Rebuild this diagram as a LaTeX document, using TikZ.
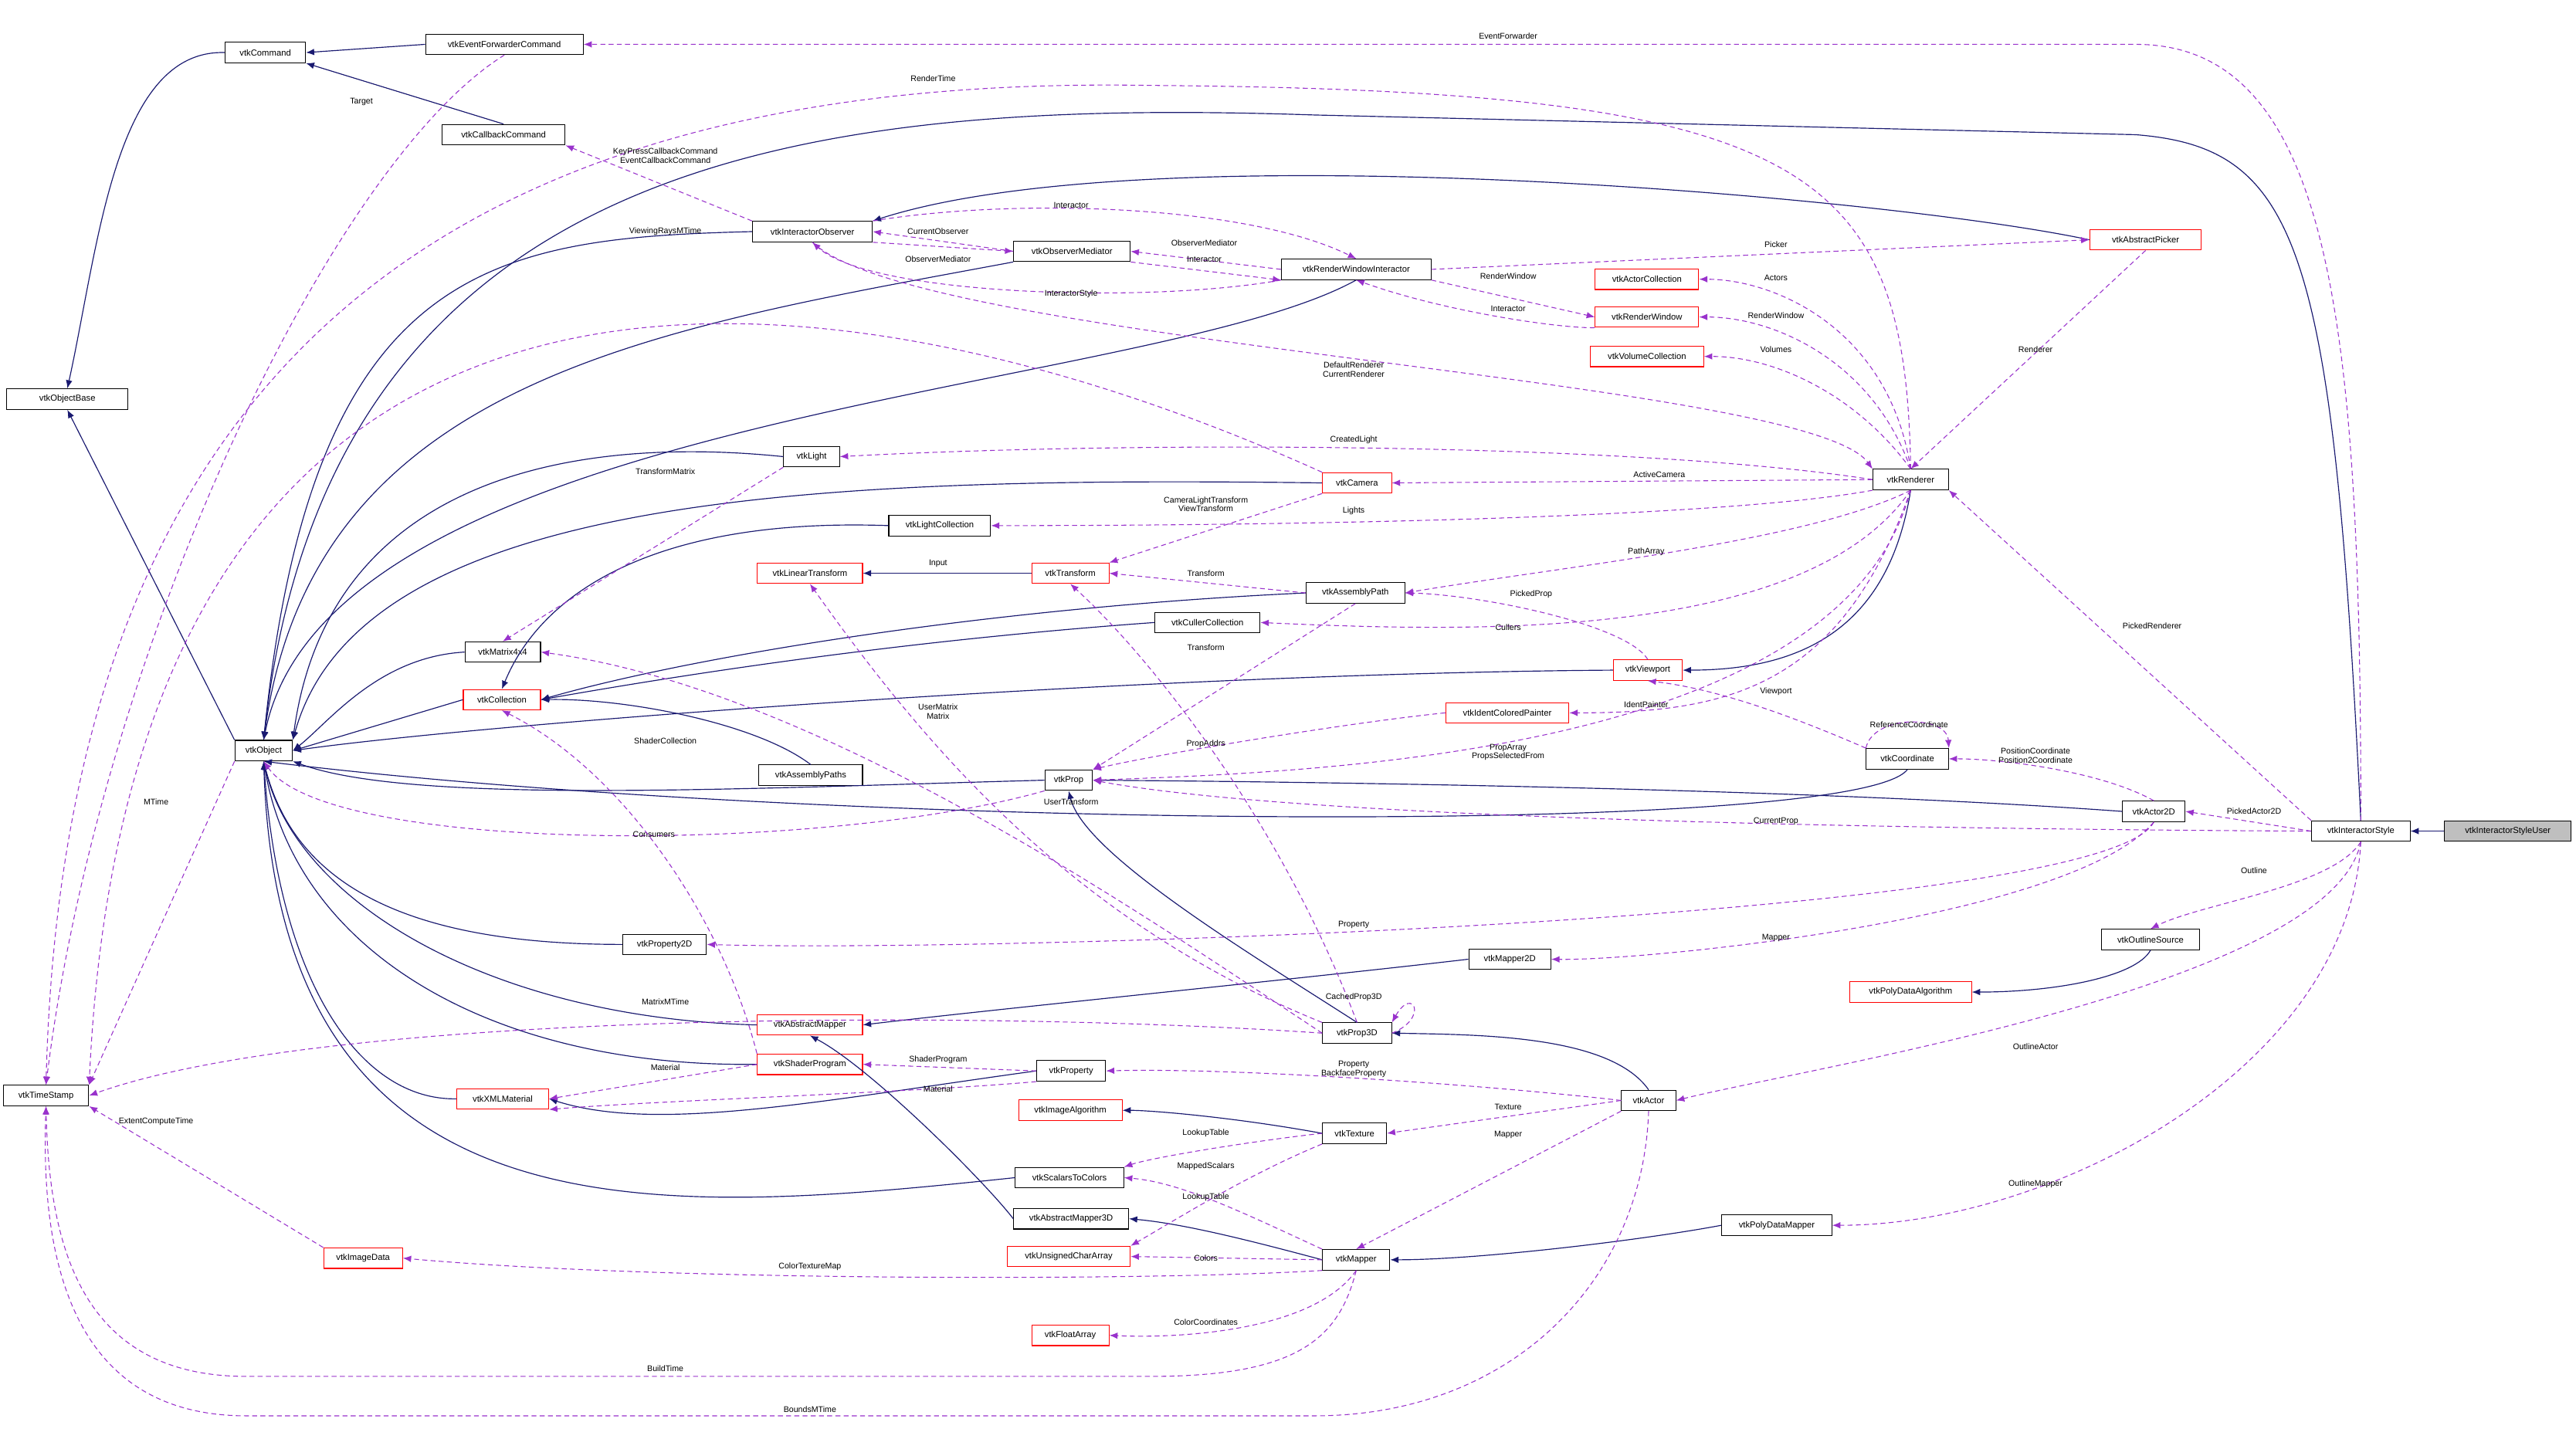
\documentclass[tikz,border=0pt]{standalone}
\usepackage{fontspec}
\setmainfont{Liberation Sans}
\usetikzlibrary{arrows.meta}
\definecolor{navy}{RGB}{25,25,112}
\definecolor{dpurple}{RGB}{153,50,204}
\definecolor{gfill}{RGB}{191,191,191}
\begin{document}
\begin{tikzpicture}[x=1pt,y=-1pt,
 cls/.style={draw=black,line width=0.5pt,minimum height=12.5pt,inner sep=0.5pt,font=\fontsize{5.3}{6}\selectfont,fill=white},
 rcls/.style={cls,draw=red},
 inh/.style={navy,line width=0.55pt,-{Latex[length=5pt,width=4pt]}},
 dep/.style={dpurple,line width=0.5pt,dashed,dash pattern=on 3pt off 2pt,-{Latex[length=5pt,width=4pt]}},
 lbl/.style={black,font=\fontsize{5}{5.6}\selectfont,inner sep=0.5pt,align=center}]
\useasboundingbox (0,0) rectangle (1568,876);
\fill[white] (0,0) rectangle (1568,876);
% nodes
\node[cls,minimum width=49pt] (Command) at (161.5,32) {vtkCommand};
\node[cls,minimum width=96pt] (EFC) at (307,27) {vtkEventForwarderCommand};
\node[cls,minimum width=75pt] (CBC) at (306.5,82) {vtkCallbackCommand};
\node[cls,minimum width=74pt] (OB) at (41,243) {vtkObjectBase};
\node[cls,minimum width=73pt] (IO) at (494.5,141) {vtkInteractorObserver};
\node[cls,minimum width=71pt] (OM) at (652.5,153) {vtkObserverMediator};
\node[cls,minimum width=91pt] (RWI) at (825.5,164) {vtkRenderWindowInteractor};
\node[rcls,minimum width=68pt] (AP) at (1306,146) {vtkAbstractPicker};
\node[rcls,minimum width=63pt] (AC) at (1002.5,170) {vtkActorCollection};
\node[rcls,minimum width=63pt] (RW) at (1002.5,193) {vtkRenderWindow};
\node[rcls,minimum width=69pt] (VC) at (1002.5,217) {vtkVolumeCollection};
\node[cls,minimum width=34pt] (Light) at (494,278) {vtkLight};
\node[rcls,minimum width=42pt] (Camera) at (826,294) {vtkCamera};
\node[cls,minimum width=46pt] (Ren) at (1163,292) {vtkRenderer};
\node[cls,minimum width=62pt] (LC) at (572,320) {vtkLightCollection};
\node[rcls,minimum width=64pt] (LT) at (493,349) {vtkLinearTransform};
\node[rcls,minimum width=47pt] (Tr) at (651.5,349) {vtkTransform};
\node[cls,minimum width=60pt] (APath) at (825,361) {vtkAssemblyPath};
\node[cls,minimum width=64pt] (CC) at (735,379) {vtkCullerCollection};
\node[cls,minimum width=46pt] (M44) at (306,397) {vtkMatrix4x4};
\node[rcls,minimum width=42pt] (VP) at (1003,408) {vtkViewport};
\node[rcls,minimum width=47pt] (Coll) at (305.5,426) {vtkCollection};
\node[rcls,minimum width=75pt] (ICP) at (917.5,434) {vtkIdentColoredPainter};
\node[cls,minimum width=35pt] (Obj) at (160.5,457) {vtkObject};
\node[cls,minimum width=63pt] (APaths) at (493.5,472) {vtkAssemblyPaths};
\node[cls,minimum width=29pt] (Prop) at (650.5,475) {vtkProp};
\node[cls,minimum width=50pt] (Coord) at (1161,462) {vtkCoordinate};
\node[cls,minimum width=38pt] (A2D) at (1311,494) {vtkActor2D};
\node[cls,minimum width=60pt] (IS) at (1437,506) {vtkInteractorStyle};
\node[cls,minimum width=77pt,fill=gfill] (ISU) at (1526.5,506) {vtkInteractorStyleUser};
\node[cls,minimum width=60pt] (OS) at (1309,572) {vtkOutlineSource};
\node[rcls,minimum width=74pt] (PDA) at (1163,604) {vtkPolyDataAlgorithm};
\node[cls,minimum width=51pt] (P2D) at (404.5,575) {vtkProperty2D};
\node[cls,minimum width=50pt] (M2D) at (919,584) {vtkMapper2D};
\node[rcls,minimum width=64pt] (AM) at (493,624) {vtkAbstractMapper};
\node[cls,minimum width=42pt] (P3D) at (826,629) {vtkProp3D};
\node[rcls,minimum width=64pt] (SP) at (493,648) {vtkShaderProgram};
\node[cls,minimum width=42pt] (Pty) at (652,652) {vtkProperty};
\node[cls,minimum width=52pt] (TS) at (28,667) {vtkTimeStamp};
\node[rcls,minimum width=56pt] (XML) at (306,669) {vtkXMLMaterial};
\node[cls,minimum width=33pt] (Actor) at (1003.5,670) {vtkActor};
\node[rcls,minimum width=63pt] (IA) at (651.5,676) {vtkImageAlgorithm};
\node[cls,minimum width=39pt] (Tex) at (824.5,690) {vtkTexture};
\node[cls,minimum width=66pt] (S2C) at (651,717) {vtkScalarsToColors};
\node[cls,minimum width=70pt] (AM3D) at (652,742) {vtkAbstractMapper3D};
\node[cls,minimum width=67pt] (PDM) at (1081.5,746) {vtkPolyDataMapper};
\node[rcls,minimum width=48pt] (ID) at (221,766) {vtkImageData};
\node[rcls,minimum width=75pt] (UCA) at (650.5,765) {vtkUnsignedCharArray};
\node[cls,minimum width=41pt] (Map) at (825.5,767) {vtkMapper};
\node[rcls,minimum width=47pt] (FA) at (651.5,813) {vtkFloatArray};
% inheritance
\draw[inh] (EFC.west) -- (Command.east);
\draw[inh] (CBC.north) -- (Command.south east);
\draw[inh] (Command.west) .. controls (70,30) and (60,150) .. (OB.north);
\draw[inh] (Obj.north west) -- (OB.south);
\draw[inh] (IO.west) .. controls (300,145) and (190,160) .. (Obj.north);
\draw[inh] (OM.south west) .. controls (400,200) and (190,230) .. (Obj.north);
\draw[inh] (RWI.south) .. controls (700,240) and (200,250) .. (Obj.north);
\draw[inh] (AP.west) .. controls (1150,120) and (700,80) .. (IO.north east);
\draw[inh] (IS.north) .. controls (1420,150) and (1400,90) .. (1300,82) -- (800,70) .. controls (500,60) and (200,90) .. (Obj.north);
\draw[inh] (Light.west) .. controls (350,265) and (200,290) .. (Obj.north east);
\draw[inh] (Camera.west) .. controls (500,290) and (220,300) .. (Obj.north east);
\draw[inh] (LC.west) .. controls (400,315) and (330,360) .. (Coll.north);
\draw[inh] (CC.west) .. controls (550,390) and (420,410) .. (Coll.east);
\draw[inh] (APath.west) .. controls (600,370) and (420,400) .. (Coll.east);
\draw[inh] (APaths.north) .. controls (460,440) and (380,425) .. (Coll.east);
\draw[inh] (M44.west) .. controls (230,400) and (200,440) .. (Obj.east);
\draw[inh] (Coll.west) -- (Obj.east);
\draw[inh] (VP.west) .. controls (700,410) and (300,440) .. (Obj.east);
\draw[inh] (Ren.south) .. controls (1150,380) and (1100,408) .. (VP.east);
\draw[inh] (Prop.west) .. controls (450,480) and (250,490) .. (Obj.south east);
\draw[inh] (Coord.south) .. controls (1130,510) and (500,505) .. (Obj.south);
\draw[inh] (A2D.west) .. controls (1100,480) and (800,476) .. (Prop.east);
\draw[inh] (ISU.west) -- (IS.east);
\draw[inh] (P2D.west) .. controls (250,575) and (180,540) .. (Obj.south);
\draw[inh] (M2D.west) .. controls (800,595) and (600,615) .. (AM.east);
\draw[inh] (AM.west) .. controls (300,620) and (180,550) .. (Obj.south);
\draw[inh] (P3D.north) .. controls (760,580) and (660,520) .. (Prop.south);
\draw[inh] (Actor.north) .. controls (980,630) and (900,630) .. (P3D.east);
\draw[inh] (SP.west) .. controls (300,650) and (180,580) .. (Obj.south);
\draw[inh] (XML.west) .. controls (220,670) and (170,600) .. (Obj.south);
\draw[inh] (Pty.west) .. controls (500,670) and (400,690) .. (XML.east);
\draw[inh] (Tex.west) .. controls (750,680) and (700,676) .. (IA.east);
\draw[inh] (S2C.west) .. controls (400,740) and (170,760) .. (Obj.south);
\draw[inh] (AM3D.west) .. controls (600,720) and (530,650) .. (AM.south);
\draw[inh] (Map.west) .. controls (760,755) and (720,745) .. (AM3D.east);
\draw[inh] (PDM.west) .. controls (1000,755) and (900,767) .. (Map.east);
\draw[inh] (OS.south) .. controls (1300,595) and (1250,604) .. (PDA.east);
\draw[inh] (Tr.west) -- (LT.east) node[lbl,above] at (571,346) {Input};
% dependencies
\draw[dep] (IS.north) .. controls (1437,200) and (1420,27) .. (1300,27) -- (EFC.east) node[lbl] at (918,22) {EventForwarder};
\draw[dep] (Ren.north) .. controls (1160,100) and (1100,55) .. (700,52) .. controls (300,45) and (40,200) .. (TS.north) node[lbl] at (568,48) {RenderTime};
\draw[dep] (EFC.south) .. controls (200,100) and (60,400) .. (TS.north) node[lbl] at (220,62) {Target};
\draw[dep] (Camera.north west) .. controls (500,150) and (80,100) .. (TS.north east) node[lbl] at (405,141) {ViewingRaysMTime};
\draw[dep] (Obj.south west) -- (TS.north east) node[lbl] at (95,488) {MTime};
\draw[dep] (IO.north west) -- (CBC.south east) node[lbl] at (405,95) {KeyPressCallbackCommand\\EventCallbackCommand};
\draw[dep] (OM.west) -- (IO.east) node[lbl] at (571,141) {CurrentObserver};
\draw[dep] (IO.south east) -- (OM.west) node[lbl] at (571,158) {ObserverMediator};
\draw[dep] (IO.north east) .. controls (620,120) and (760,125) .. (RWI.north) node[lbl] at (652,125) {Interactor};
\draw[dep] (RWI.west) -- (OM.east) node[lbl] at (733,148) {ObserverMediator};
\draw[dep] (OM.south east) -- (RWI.south west) node[lbl] at (733,158) {Interactor};
\draw[dep] (RWI.south west) .. controls (700,185) and (530,180) .. (IO.south) node[lbl] at (652,179) {InteractorStyle};
\draw[dep] (RWI.east) -- (AP.west) node[lbl] at (1081,149) {Picker};
\draw[dep] (RWI.south east) -- (RW.west) node[lbl] at (918,168) {RenderWindow};
\draw[dep] (RW.south west) .. controls (950,200) and (880,190) .. (RWI.south) node[lbl] at (918,188) {Interactor};
\draw[dep] (Ren.north) .. controls (1150,200) and (1080,170) .. (AC.east) node[lbl] at (1081,169) {Actors};
\draw[dep] (Ren.north) .. controls (1140,220) and (1080,193) .. (RW.east) node[lbl] at (1081,192) {RenderWindow};
\draw[dep] (Ren.north) .. controls (1130,240) and (1080,217) .. (VC.east) node[lbl] at (1081,213) {Volumes};
\draw[dep] (IO.south) .. controls (560,210) and (1100,230) .. (Ren.north west) node[lbl] at (824,225) {DefaultRenderer\\CurrentRenderer};
\draw[dep] (AP.south) -- (Ren.north) node[lbl] at (1239,213) {Renderer};
\draw[dep] (Ren.west) .. controls (1000,270) and (700,268) .. (Light.east) node[lbl] at (824,268) {CreatedLight};
\draw[dep] (Ren.west) -- (Camera.east) node[lbl] at (1010,289) {ActiveCamera};
\draw[dep] (Ren.south west) .. controls (1050,315) and (800,320) .. (LC.east) node[lbl] at (824,311) {Lights};
\draw[dep] (Camera.south west) -- (Tr.north east) node[lbl] at (734,307) {CameraLightTransform\\ViewTransform};
\draw[dep] (Light.south west) -- (M44.north) node[lbl] at (405,287) {TransformMatrix};
\draw[dep] (Ren.south) .. controls (1100,330) and (950,345) .. (APath.east) node[lbl] at (1002,336) {PathArray};
\draw[dep] (APath.west) -- (Tr.east) node[lbl] at (734,349) {Transform};
\draw[dep] (Ren.south) .. controls (1100,390) and (900,385) .. (CC.east) node[lbl] at (918,382) {Cullers};
\draw[dep] (VP.north) .. controls (990,380) and (900,362) .. (APath.east) node[lbl] at (932,362) {PickedProp};
\draw[dep] (APath.south) -- (Prop.north east);
\draw[dep] (ICP.west) .. controls (820,440) and (700,460) .. (Prop.north east) node[lbl] at (734,453) {PropAddrs};
\draw[dep] (P3D.north) .. controls (780,500) and (700,400) .. (Tr.south) node[lbl] at (734,394) {Transform};
\draw[dep] (P3D.west) .. controls (700,560) and (500,420) .. (M44.east) node[lbl] at (571,433) {UserMatrix\\Matrix};
\draw[dep] (P3D.north west) .. controls (650,560) and (560,450) .. (LT.south) node[lbl] at (652,488) {UserTransform};
\draw[dep] (Ren.south) .. controls (1120,460) and (800,470) .. (Prop.east) node[lbl] at (918,458) {PropArray\\PropsSelectedFrom};
\draw[dep] (Ren.south) .. controls (1120,420) and (1050,434) .. (ICP.east) node[lbl] at (1002,429) {IdentPainter};
\draw[dep] (Coord.north west) .. controls (1100,440) and (1050,420) .. (VP.south) node[lbl] at (1081,421) {Viewport};
\draw[dep] (Coord.north west) .. controls (1140,435) and (1185,435) .. (Coord.north east) node[lbl] at (1162,441) {ReferenceCoordinate};
\draw[dep] (A2D.north) .. controls (1280,470) and (1220,462) .. (Coord.east) node[lbl] at (1239,460) {PositionCoordinate\\Position2Coordinate};
\draw[dep] (IS.west) .. controls (1200,505) and (800,500) .. (Prop.east) node[lbl] at (1081,500) {CurrentProp};
\draw[dep] (Prop.south west) .. controls (500,520) and (200,520) .. (Obj.south) node[lbl] at (398,508) {Consumers};
\draw[dep] (IS.west) -- (A2D.east) node[lbl] at (1372,494) {PickedActor2D};
\draw[dep] (IS.north west) -- (Ren.south east) node[lbl] at (1310,381) {PickedRenderer};
\draw[dep] (IS.south) .. controls (1420,540) and (1340,550) .. (OS.north) node[lbl] at (1372,530) {Outline};
\draw[dep] (A2D.south) .. controls (1280,560) and (600,580) .. (P2D.east) node[lbl] at (824,563) {Property};
\draw[dep] (A2D.south) .. controls (1260,560) and (1000,585) .. (M2D.east) node[lbl] at (1081,571) {Mapper};
\draw[dep] (IS.south) .. controls (1420,600) and (1100,650) .. (Actor.east) node[lbl] at (1239,637) {OutlineActor};
\draw[dep] (IS.south) .. controls (1430,650) and (1250,746) .. (PDM.east) node[lbl] at (1239,721) {OutlineMapper};
\draw[dep] (P3D.east) .. controls (870,620) and (860,600) .. (P3D.north east) node[lbl] at (824,607) {CachedProp3D};
\draw[dep] (P3D.west) .. controls (600,615) and (200,615) .. (TS.east) node[lbl] at (405,610) {MatrixMTime};
\draw[dep] (SP.north west) .. controls (440,560) and (380,470) .. (Coll.south) node[lbl] at (405,451) {ShaderCollection};
\draw[dep] (SP.west) -- (XML.east) node[lbl] at (405,650) {Material};
\draw[dep] (Pty.west) -- (SP.east) node[lbl] at (571,645) {ShaderProgram};
\draw[dep] (Pty.south west) .. controls (560,665) and (400,670) .. (XML.south east) node[lbl] at (571,663) {Material};
\draw[dep] (Actor.west) .. controls (900,660) and (750,650) .. (Pty.east) node[lbl] at (824,651) {Property\\BackfaceProperty};
\draw[dep] (Actor.west) -- (Tex.east) node[lbl] at (918,674) {Texture};
\draw[dep] (Actor.south west) -- (Map.north) node[lbl] at (918,691) {Mapper};
\draw[dep] (Tex.west) .. controls (760,695) and (700,705) .. (S2C.north east) node[lbl] at (734,690) {LookupTable};
\draw[dep] (Tex.south west) .. controls (760,715) and (720,740) .. (UCA.north east) node[lbl] at (734,710) {MappedScalars};
\draw[dep] (Map.north west) .. controls (760,740) and (720,720) .. (S2C.east) node[lbl] at (734,729) {LookupTable};
\draw[dep] (Map.west) -- (UCA.east) node[lbl] at (734,766) {Colors};
\draw[dep] (Map.south west) .. controls (700,780) and (400,780) .. (ID.east) node[lbl] at (493,771) {ColorTextureMap};
\draw[dep] (Map.south) .. controls (800,810) and (720,815) .. (FA.east) node[lbl] at (734,805) {ColorCoordinates};
\draw[dep] (Map.south) .. controls (815,815) and (790,838) .. (700,838) -- (150,838) .. controls (50,838) and (30,760) .. (TS.south) node[lbl] at (405,833) {BuildTime};
\draw[dep] (Actor.south) .. controls (1000,780) and (920,862) .. (800,862) -- (150,862) .. controls (40,862) and (25,760) .. (TS.south) node[lbl] at (493,858) {BoundsMTime};
\draw[dep] (ID.north west) -- (TS.south east) node[lbl] at (95,683) {ExtentComputeTime};
\end{tikzpicture}
\end{document}
